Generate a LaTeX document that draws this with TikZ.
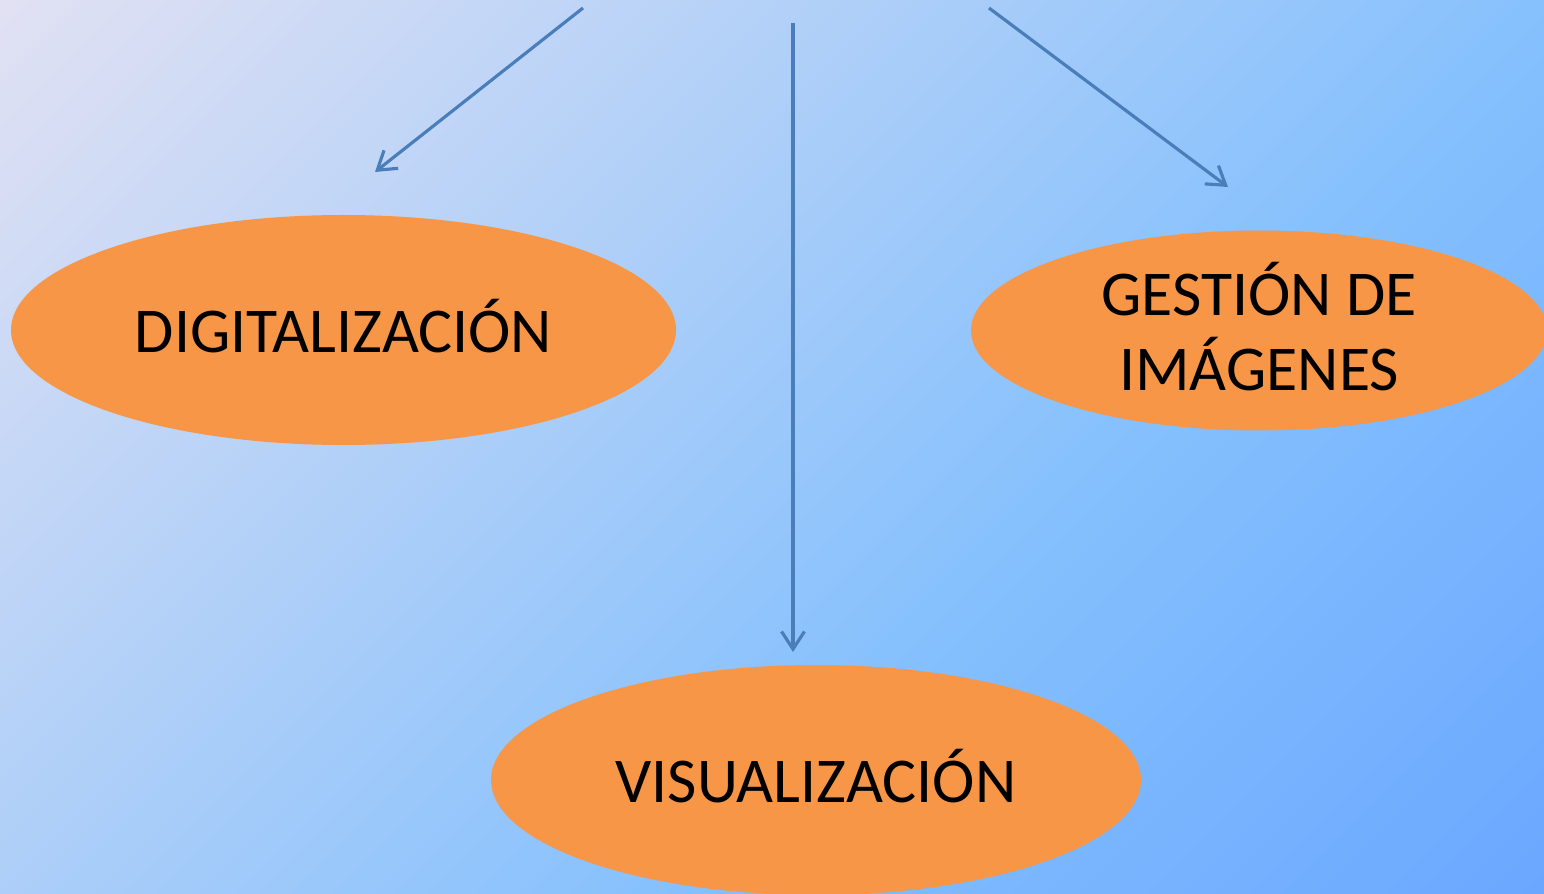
\documentclass[tikz,border=0pt]{standalone}
\usepackage{fontspec}
\setmainfont{Carlito}
\usetikzlibrary{arrows.meta}
\definecolor{bgA}{HTML}{E1E1F3}
\definecolor{bgB}{HTML}{84C0FD}
\definecolor{bgC}{HTML}{6BA7FF}
\definecolor{ovalfill}{HTML}{F79646}
\definecolor{arrowcol}{HTML}{4A7EBB}
\pgfdeclarehorizontalshading{bgshade}{100bp}{color(0bp)=(bgA); color(14.64bp)=(bgA); color(60.6bp)=(bgB); color(85.36bp)=(bgC); color(100bp)=(bgC)}
\tikzset{
  oval/.style={fill=ovalfill, draw=none},
  lbl/.style={font=\fontsize{18.15}{21.3}\selectfont, text=black, align=center},
  conn/.style={draw=arrowcol, line width=0.9pt, -{Straight Barb[length=5pt,width=6.5pt,line width=0.9pt]}}
}
\begin{document}
\begin{tikzpicture}[x=0.01cm,y=-0.01cm]
\useasboundingbox (0,0) rectangle (1544,894);
\shade[shading=bgshade, shading angle=-45] (0,0) rectangle (1544,894);
\begin{scope}
\clip (0,0) rectangle (1544,894);
\fill[oval] (343.5,330) ellipse [x radius=332.5, y radius=115];
\fill[oval] (1259,330.5) ellipse [x radius=288, y radius=100];
\fill[oval] (816,780) ellipse [x radius=325, y radius=115];
\end{scope}
\node[lbl] (dig) at (343.5,326) {DIGITALIZACIÓN};
\node[lbl] (ges) at (1259,326.5) {GESTIÓN DE\\IMÁGENES};
\node[lbl] (vis) at (816,776) {VISUALIZACIÓN};
\coordinate (a1s) at (583,8);
\coordinate (a1e) at (375,172);
\coordinate (a2s) at (793,23);
\coordinate (a2e) at (793,652);
\coordinate (a3s) at (989,8);
\coordinate (a3e) at (1228,187);
\draw[conn] (a1s) -- (a1e);
\draw[conn] (a2s) -- (a2e);
\draw[conn] (a3s) -- (a3e);
\end{tikzpicture}
\end{document}
